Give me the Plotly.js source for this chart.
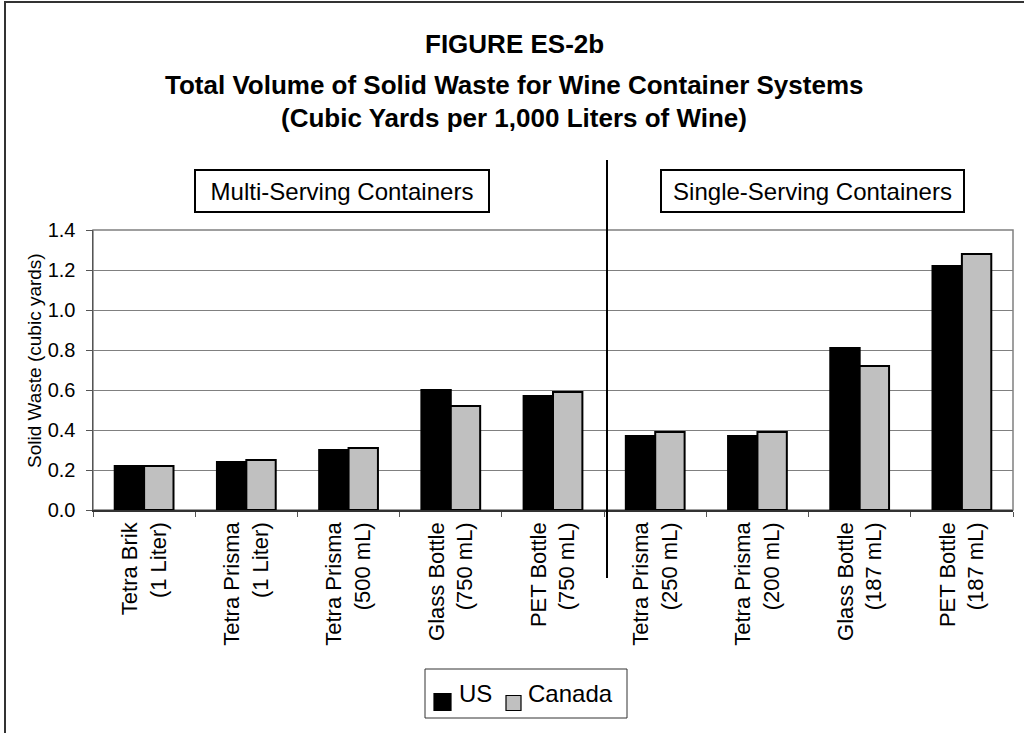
<!DOCTYPE html>
<html>
<head>
<meta charset="utf-8">
<script src="https://cdn.plot.ly/plotly-3.0.1.min.js"></script>
<style>html,body{margin:0;padding:0;background:#fff;}#chart{width:1024px;height:733px;}</style>
</head>
<body>
<div id="chart"></div>
<script>
// Data
const categories = [
  "Tetra Brik<br>(1 Liter)",
  "Tetra Prisma<br>(1 Liter)",
  "Tetra Prisma<br>(500 mL)",
  "Glass Bottle<br>(750 mL)",
  "PET Bottle<br>(750 mL)",
  "Tetra Prisma<br>(250 mL)",
  "Tetra Prisma<br>(200 mL)",
  "Glass Bottle<br>(187 mL)",
  "PET Bottle<br>(187 mL)"
];
const usValues = [0.22, 0.24, 0.30, 0.60, 0.57, 0.37, 0.37, 0.81, 1.22];
const canadaValues = [0.22, 0.25, 0.31, 0.52, 0.59, 0.39, 0.39, 0.72, 1.28];
const seriesNames = ["US", "Canada"];
const seriesColors = ["#000000", "#C0C0C0"];
const titleLines = [
  "FIGURE ES-2b",
  "Total Volume of Solid Waste for Wine Container Systems",
  "(Cubic Yards per 1,000 Liters of Wine)"
];
const groupLabels = ["Multi-Serving Containers", "Single-Serving Containers"];
const yTitle = "Solid Waste (cubic yards)";
const yTicks = [0, 0.2, 0.4, 0.6, 0.8, 1.0, 1.2, 1.4];

const W = 1024, H = 733;
const L = 93, R = 11, T = 230, B = 223;
const pw = W - L - R, ph = H - T - B;
function px(x) { return (x - L) / pw; }
function py(y) { return (H - B - y) / ph; }

const FONT = "Liberation Sans, Arial, sans-serif";

const traces = seriesNames.map((name, i) => ({
  type: "bar", name: name, x: categories, y: i === 0 ? usValues : canadaValues,
  marker: {color: seriesColors[i], line: {color: "#000000", width: 2}},
  showlegend: false
}));

const shapes = [
  // plot area border
  {type: "rect", xref: "paper", yref: "paper", x0: 0, x1: 1, y0: 0, y1: 1,
   line: {color: "#808080", width: 1.5}, layer: "below"},
  // divider between groups
  {type: "line", xref: "paper", yref: "paper", x0: px(607), x1: px(607), y0: py(578), y1: py(160),
   line: {color: "#000", width: 2}},
  // chart frame (left and top)
  {type: "line", xref: "paper", yref: "paper", x0: px(5), x1: px(5), y0: py(H + 5), y1: py(1),
   line: {color: "#333", width: 2}},
  {type: "line", xref: "paper", yref: "paper", x0: px(4), x1: px(W + 5), y0: py(2), y1: py(2),
   line: {color: "#333", width: 2}},
  // legend box
  {type: "rect", xref: "paper", yref: "paper", x0: px(425), x1: px(627), y0: py(718), y1: py(669),
   line: {color: "#333", width: 1}, fillcolor: "#fff"}
];

const annotations = [];
// title lines
const titleY = [44, 85, 118];
titleLines.forEach((t, i) => {
  annotations.push({text: "<b>" + t + "</b>", xref: "paper", yref: "paper",
    x: px(514), xanchor: "center", y: py(titleY[i]), yanchor: "middle",
    showarrow: false, font: {family: FONT, size: 26, color: "#000"}});
});
// group boxes
const boxLeft = [194, 660], boxWidth = [284, 293];
groupLabels.forEach((t, i) => {
  annotations.push({text: t, xref: "paper", yref: "paper",
    x: px(boxLeft[i]), xanchor: "left", y: py(191), yanchor: "middle",
    width: boxWidth[i], height: 32, align: "center", valign: "middle",
    showarrow: false, font: {family: FONT, size: 24, color: "#000"},
    bordercolor: "#000", borderwidth: 2, borderpad: 4, bgcolor: "#fff"});
});
// y axis title
annotations.push({text: yTitle, xref: "paper", yref: "paper",
  x: px(34), xanchor: "center", y: py(361), yanchor: "middle", textangle: -90,
  showarrow: false, font: {family: FONT, size: 19, color: "#000"}});
// legend (custom, matching the reference key)
const keyX = [434, 506], keyText = [457, 526], keySize = [17, 15];
seriesNames.forEach((n, i) => {
  const cy = 702;
  shapes.push({type: "rect", xref: "paper", yref: "paper",
    x0: px(keyX[i]), x1: px(keyX[i] + keySize[i]),
    y0: py(cy + keySize[i] / 2 + (i === 1 ? 1 : 0)), y1: py(cy - keySize[i] / 2 + (i === 1 ? 1 : 0)),
    fillcolor: seriesColors[i], line: {color: "#000", width: 1.2}});
  annotations.push({text: n, xref: "paper", yref: "paper",
    x: px(keyText[i]), xanchor: "left", y: py(693), yanchor: "middle",
    showarrow: false, font: {family: FONT, size: 24, color: "#000"}});
});

const layout = {
  width: W, height: H,
  margin: {l: L, r: R, t: T, b: B, pad: 0},
  paper_bgcolor: "#ffffff", plot_bgcolor: "#ffffff",
  font: {family: FONT, color: "#000000", size: 20},
  barmode: "group", bargap: 0.425, bargroupgap: 0,
  showlegend: false,
  xaxis: {
    type: "category", tickangle: -90, tickson: "boundaries",
    ticks: "outside", ticklen: 5, tickcolor: "#555", tickwidth: 1,
    showline: true, linecolor: "#333", linewidth: 1.5,
    showgrid: false, tickfont: {family: FONT, size: 22, color: "#000"},
    ticklabelstandoff: 2, fixedrange: true, automargin: false
  },
  yaxis: {
    range: [0, 1.4], tickvals: yTicks, tickformat: ".1f",
    ticks: "outside", ticklen: 6, tickcolor: "#555",
    showline: true, linecolor: "#555", linewidth: 1.5,
    showgrid: true, gridcolor: "#808080", gridwidth: 1,
    zeroline: false, tickfont: {family: FONT, size: 20, color: "#000"},
    ticklabelstandoff: 6, automargin: false
  },
  shapes: shapes,
  annotations: annotations
};

Plotly.newPlot("chart", traces, layout, {displayModeBar: false, staticPlot: true});
</script>
</body>
</html>
